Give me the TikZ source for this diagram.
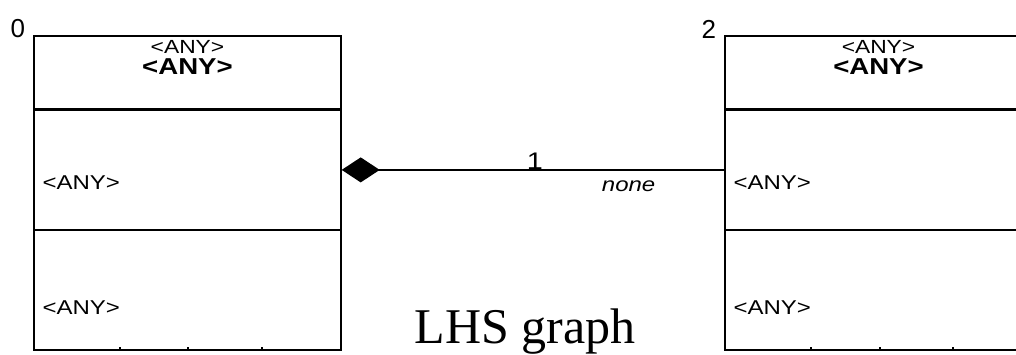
\documentclass[tikz,border=0pt]{standalone}
\usepackage{fontspec}
\setmainfont{Liberation Serif}
\setsansfont{Liberation Sans}
\newfontfamily\umlfont[FakeStretch=1.2]{Liberation Sans}
\usetikzlibrary{arrows.meta,positioning}

\begin{document}
\begin{tikzpicture}[
  x=1pt, y=-1pt,
  font=\umlfont,
  hdr/.style={draw, minimum width=307pt, minimum height=73pt, inner sep=0pt, line width=1.4pt},
  sect/.style={draw, minimum width=307pt, minimum height=119pt, inner sep=0pt, line width=1.4pt},
  stereo/.style={inner sep=0pt, font=\umlfont\fontsize{19}{19}\selectfont},
  cname/.style={inner sep=0pt, font=\umlfont\bfseries\fontsize{23}{23}\selectfont},
  attr/.style={anchor=west, inner sep=0pt, font=\umlfont\fontsize{20}{20}\selectfont},
  idx/.style={anchor=south east, inner sep=0pt, font=\sffamily\fontsize{26}{26}\selectfont},
  lbl/.style={inner sep=0pt, font=\umlfont\fontsize{24}{24}\selectfont},
  assoc/.style={{Diamond[length=38pt, width=25pt]}-, line width=1.4pt}
]
\useasboundingbox (0,0) rectangle (1016,355);
% class 0
\node[hdr] (c0h) at (187.5,72.5) {};
\node[sect, below=0pt of c0h] (c0a) {};
\node[sect, below=0pt of c0a] (c0b) {};
\node[stereo] (c0s) at ([yshift=26pt]c0h.center) {<ANY>};
\node[cname] (c0n) at ([yshift=5.5pt]c0h.center) {<ANY>};
\node[attr] (c0x) at ([xshift=9pt, yshift=-13pt]c0a.west) {<ANY>};
\node[attr] (c0y) at ([xshift=9pt, yshift=-17pt]c0b.west) {<ANY>};
\node[idx] (n0) at ([xshift=-8pt, yshift=-3pt]c0h.north west) {0};
% class 2
\node[hdr] (c2h) at (878.5,72.5) {};
\node[sect, below=0pt of c2h] (c2a) {};
\node[sect, below=0pt of c2a] (c2b) {};
\node[stereo] (c2s) at ([yshift=26pt]c2h.center) {<ANY>};
\node[cname] (c2n) at ([yshift=5.5pt]c2h.center) {<ANY>};
\node[attr] (c2x) at ([xshift=9pt, yshift=-13pt]c2a.west) {<ANY>};
\node[attr] (c2y) at ([xshift=9pt, yshift=-17pt]c2b.west) {<ANY>};
\node[idx] (n2) at ([xshift=-8pt, yshift=-3pt]c2h.north west) {2};
% ticks
\foreach \x in {120,188,262,811,880,953}
  \draw[line width=1.2pt] (\x,347) -- ++(0,4);
% association
\draw[assoc] (c0a.east) -- (c2a.west)
  node[lbl, pos=0.505, above=0pt] {1}
  node[lbl, pos=0.75, below=10pt, font=\umlfont\itshape\fontsize{20}{20}\selectfont] {none};
\node[font=\rmfamily\fontsize{50}{50}\selectfont, anchor=base, inner sep=0pt] (lhs) at (525,343) {LHS graph};
\end{tikzpicture}
\end{document}
